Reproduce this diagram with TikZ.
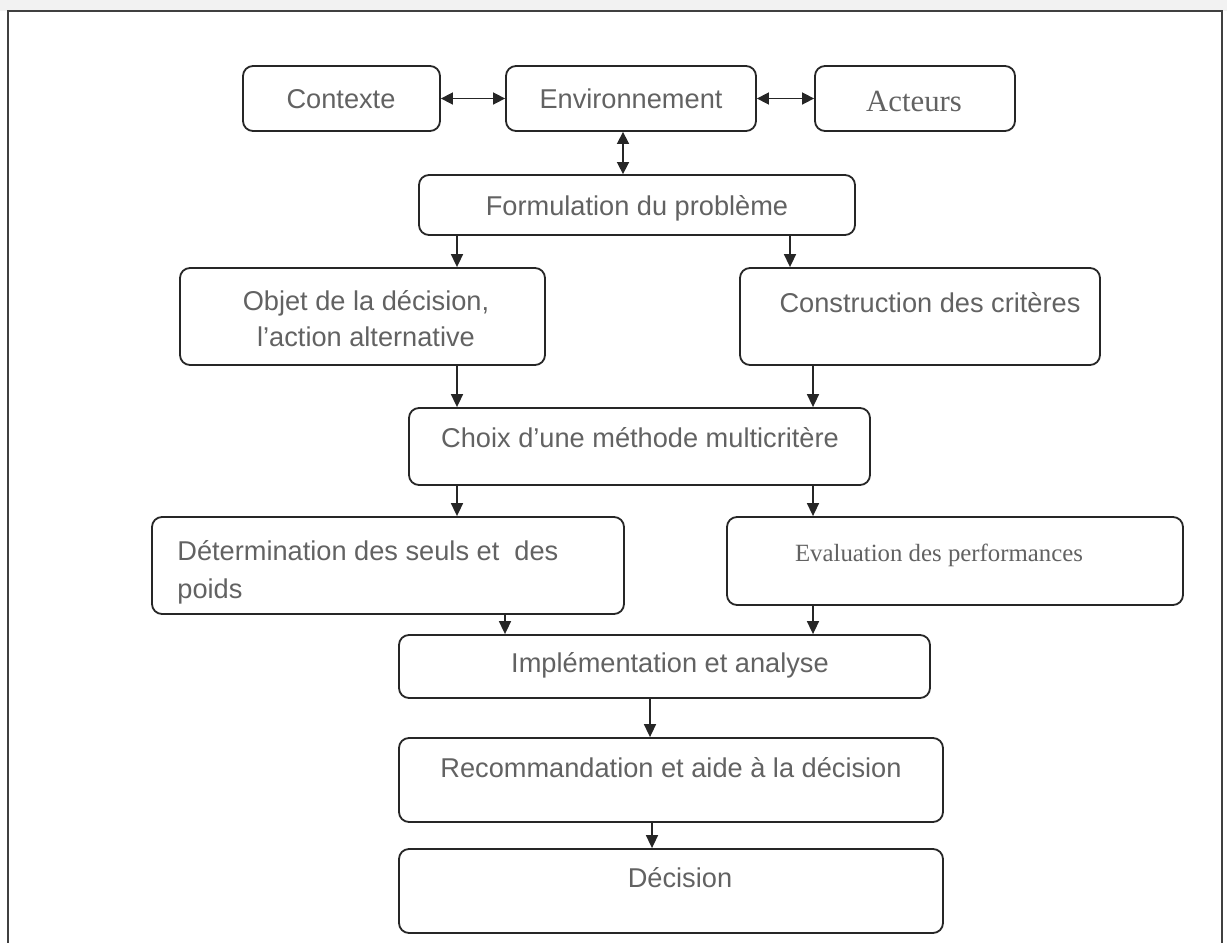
\documentclass[tikz,border=0pt]{standalone}
\usepackage{fontspec}
\setmainfont{Liberation Sans}
\newfontfamily\serifface{Liberation Serif}
\usetikzlibrary{arrows.meta,fit}
\definecolor{txtgray}{RGB}{98,98,98}
\definecolor{edge}{RGB}{38,38,38}
\begin{document}
\begin{tikzpicture}[x=0.5pt,y=-0.5pt,
  box/.style={draw=edge, line width=0.9pt, rounded corners=5pt, inner sep=0pt},
  lbl/.style={text=txtgray, font=\fontsize{13.6}{18}\selectfont, inner sep=0pt, anchor=base},
  lblw/.style={lbl, anchor=base west},
  tip/.style={Triangle[length=6.5pt,width=6pt]},
  arr/.style={draw=edge, line width=0.8pt, -{Triangle[length=6.5pt,width=6pt]}},
  darr/.style={draw=edge, line width=0.8pt, {Triangle[length=6pt,width=6pt]}-{Triangle[length=6pt,width=6pt]}}]

\useasboundingbox (0,0) rectangle (1227,943);
\fill[black!5] (0,0) rectangle (1227,11);
% outer frame (open at the bottom)
\draw[line width=1pt, draw=black!75] (8,960) -- (8,11) -- (1222,11) -- (1222,960);

% boxes
\node[box, fit={(243,66) (440,131)}]   (ctx)  {};
\node[box, fit={(506,66) (756,131)}]   (env)  {};
\node[box, fit={(815,66) (1015,131)}]  (act)  {};
\node[box, fit={(419,175) (855,235)}]  (form) {};
\node[box, fit={(180,268) (545,365)}]  (obj)  {};
\node[box, fit={(740,268) (1100,365)}] (crit) {};
\node[box, fit={(409,408) (870,485)}]  (meth) {};
\node[box, fit={(152,517) (624,614)}]  (seuil){};
\node[box, fit={(727,517) (1183,605)}] (eval) {};
\node[box, fit={(399,635) (930,698)}]  (impl) {};
\node[box, fit={(399,738) (943,822)}]  (reco) {};
\node[box, fit={(399,849) (943,933)}]  (dec)  {};

% labels
\node[lbl] (tctx) at (341,108) {Contexte};
\node[lbl] (tenv) at (631,108) {Environnement};
\node[lbl, font=\serifface\fontsize{15.4}{18}\selectfont] (tact) at (914,111) {Acteurs};
\node[lbl] (tform) at (637,215) {Formulation du problème};
\node[lbl] (tobj1) at (366,310) {Objet de la décision,};
\node[lbl] (tobj2) at (366,346) {l’action alternative};
\node[lbl] (tcrit) at (930,312) {Construction des critères};
\node[lbl] (tmeth) at (640,447) {Choix d’une méthode multicritère};
\node[lblw] (tseuil1) at (177,560) {Détermination des seuls et\ \ des};
\node[lblw] (tseuil2) at (177,598) {poids};
\node[lbl, font=\serifface\fontsize{12.4}{16}\selectfont] (teval) at (939,561) {Evaluation des performances};
\node[lbl] (timpl) at (670,672) {Implémentation et analyse};
\node[lbl] (treco) at (671,777) {Recommandation et aide à la décision};
\node[lbl] (tdec) at (680,887) {Décision};

% x positions of the vertical connectors
\coordinate (xe) at (623,0);
\coordinate (xa) at (457,0);
\coordinate (xb) at (790,0);
\coordinate (xc) at (813,0);
\coordinate (xd) at (505,0);
\coordinate (xf) at (650,0);
\coordinate (xg) at (652,0);

% connectors
\draw[darr] (ctx.east) -- (env.west);
\draw[darr] (env.east) -- (act.west);
\draw[darr] (env.south -| xe) -- (form.north -| xe);
\draw[arr] (form.south -| xa) -- (obj.north -| xa);
\draw[arr] (form.south -| xb) -- (crit.north -| xb);
\draw[arr] (obj.south -| xa) -- (meth.north -| xa);
\draw[arr] (crit.south -| xc) -- (meth.north -| xc);
\draw[arr] (meth.south -| xa) -- (seuil.north -| xa);
\draw[arr] (meth.south -| xc) -- (eval.north -| xc);
\draw[arr] (seuil.south -| xd) -- (impl.north -| xd);
\draw[arr] (eval.south -| xc) -- (impl.north -| xc);
\draw[arr] (impl.south -| xf) -- (reco.north -| xf);
\draw[arr] (reco.south -| xg) -- (dec.north -| xg);
\end{tikzpicture}
\end{document}
